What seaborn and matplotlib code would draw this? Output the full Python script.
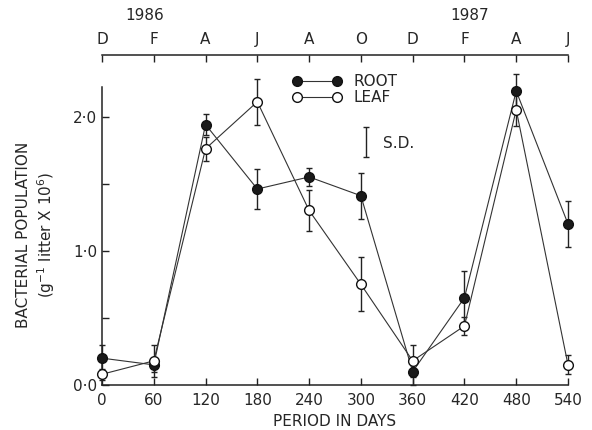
import matplotlib
matplotlib.use("Agg")
import matplotlib.pyplot as plt
import seaborn as sns
import pandas as pd
import numpy as np

days = [0, 60, 120, 180, 240, 300, 360, 420, 480, 540]
root = [0.20, 0.15, 1.94, 1.46, 1.55, 1.41, 0.10, 0.65, 2.19, 1.20]
root_sd = [0.10, 0.05, 0.08, 0.15, 0.07, 0.17, 0.10, 0.20, 0.13, 0.17]
leaf = [0.08, 0.18, 1.76, 2.11, 1.30, 0.75, 0.18, 0.44, 2.05, 0.15]
leaf_sd = [0.04, 0.12, 0.09, 0.17, 0.15, 0.20, 0.12, 0.07, 0.12, 0.07]
month_labels = ["D", "F", "A", "J", "A", "O", "D", "F", "A", "J"]
y_ticks = [0.0, 1.0, 2.0]
y_tick_labels = ["0·0", "1·0", "2·0"]

sns.set_style("ticks")
plt.rcParams['font.family'] = ['DejaVu Sans']

fig = plt.figure(figsize=(5.92, 4.30), dpi=100)
ax = fig.add_axes([102/592, 1-385/430, (568-102)/592, (385-87)/430])

df = pd.DataFrame({"day": days * 2,
                   "val": root + leaf,
                   "kind": ["ROOT"] * len(days) + ["LEAF"] * len(days)})

lc = "#333333"
for kind, vals, sds, fc in [("ROOT", root, root_sd, "#1a1a1a"), ("LEAF", leaf, leaf_sd, "white")]:
    sub = df[df.kind == kind]
    ax.errorbar(days, vals, yerr=sds, fmt="none", ecolor="#222222", elinewidth=1.0,
                capsize=2, capthick=1.0, clip_on=False, zorder=2)
    sns.lineplot(data=sub, x="day", y="val", ax=ax, color=lc, linewidth=0.8,
                 marker="o", markersize=7, markerfacecolor=fc, markeredgecolor="#111111",
                 markeredgewidth=1.0, clip_on=False, zorder=3, label=kind, legend=False)

ax.set_xlim(0, 540)
ax.set_ylim(0, 2.22)
ax.set_xticks(days)
ax.set_xticklabels([str(d) for d in days], fontsize=11)
ax.set_yticks(y_ticks)
ax.set_yticklabels(y_tick_labels, fontsize=11)
ax.set_yticks([0.5, 1.5], minor=True)
ax.tick_params(axis="both", which="both", direction="in", length=5, width=1, color="#222222")
ax.tick_params(axis="x", pad=6)
ax.spines["top"].set_visible(False)
ax.spines["right"].set_visible(False)
for s in ["left", "bottom"]:
    ax.spines[s].set_linewidth(1.1)
    ax.spines[s].set_color("#222222")

ax.set_xlabel("PERIOD IN DAYS", fontsize=11, labelpad=4)
ax.set_ylabel("")
fig.text(24/592, 1-235/430, "BACTERIAL POPULATION", rotation=90, ha="center", va="center", fontsize=11)
fig.text(46/592, 1-235/430, r"(g$^{-1}$ litter X 10$^{6}$)", rotation=90, ha="center", va="center", fontsize=11)

# top month axis
sec = ax.secondary_xaxis(location=(385-55)/(385-87))
sec.set_xticks(days)
sec.set_xticklabels(month_labels, fontsize=11)
sec.tick_params(direction="in", length=5, width=1, color="#222222", pad=6)
sec.spines["top"].set_linewidth(1.1)
sec.spines["top"].set_color("#222222")
fig.text(145/592, 1-15/430, "1986", ha="center", va="center", fontsize=11)
fig.text(470/592, 1-15/430, "1987", ha="center", va="center", fontsize=11)

# legend
leg = ax.legend(handles=[l for l in ax.lines if l.get_label() in ("ROOT", "LEAF")],
                loc="upper left", bbox_to_anchor=(0.379, 1.09), frameon=False, numpoints=2,
                handlelength=3.2, fontsize=11, labelspacing=0.1)
# S.D. symbol
ax.errorbar([0.567], [0.815], yerr=[0.05], fmt="none", ecolor="#222222", elinewidth=1.0,
            capsize=2, capthick=1.0, transform=ax.transAxes)
ax.text(0.603, 0.81, "S.D.", transform=ax.transAxes, fontsize=11, va="center")

fig.savefig("out.png", dpi=100)
